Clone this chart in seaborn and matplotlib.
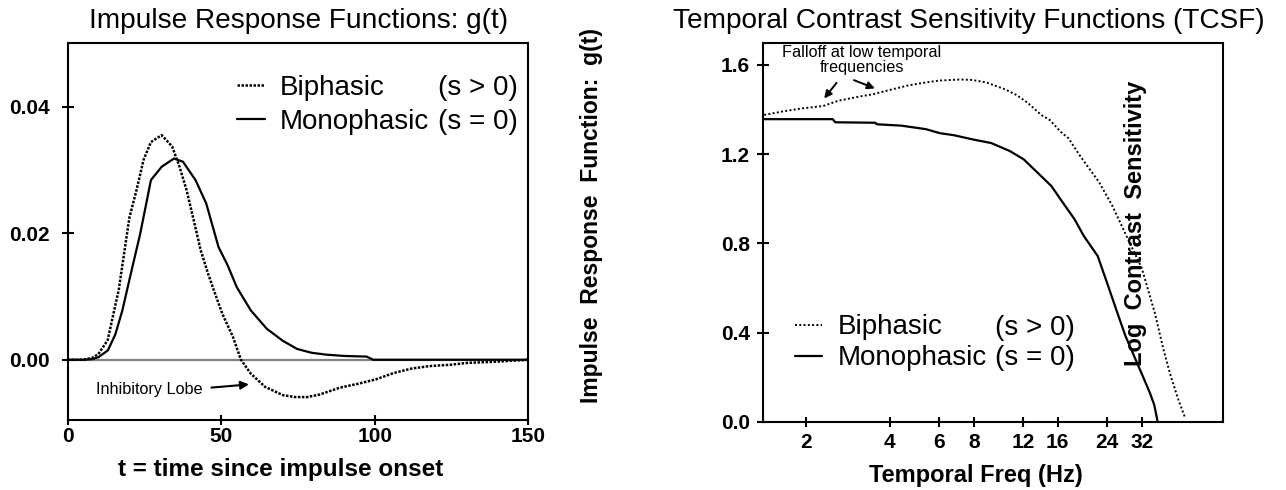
import matplotlib
matplotlib.use("Agg")
import matplotlib.pyplot as plt
import seaborn as sns
import pandas as pd

# ---------------- data: impulse response functions ----------------
t_bi = [0, 5, 8, 10, 13, 16.6, 20.1, 22.4, 24.7, 27.1, 30.6, 34, 36.4, 38.7, 41,
        43.3, 45.7, 48, 50.3, 53.8, 56.4, 59.6, 64.3, 70.1, 74, 78, 82, 88.7,
        94.5, 100.3, 106.1, 111.9, 117.7, 124.4, 130, 139.6, 150]
g_bi = [0, 0, 0.0003, 0.0009, 0.0031, 0.0110, 0.0225, 0.0268, 0.0316, 0.0344,
        0.0355, 0.0337, 0.0305, 0.0268, 0.0221, 0.0173, 0.0136, 0.0104, 0.0073,
        0.0036, 0.0, -0.0022, -0.0043, -0.0056, -0.0059, -0.0059, -0.0055,
        -0.0044, -0.0038, -0.0031, -0.0021, -0.0014, -0.0010, -0.0008, -0.0005,
        -0.0003, 0]

t_mono = [0, 5, 8, 10, 13.1, 15.5, 17.8, 20.5, 23.6, 27.1, 30.6, 34.6, 37.5, 41.6,
          45.1, 49.1, 52, 55, 59.6, 64.8, 70, 74.7, 79.4, 84.3, 90, 97.3, 99.5,
          110, 150]
g_mono = [0, 0, 0.0001, 0.0004, 0.0015, 0.0040, 0.0078, 0.0135, 0.0199, 0.0284,
          0.0305, 0.0318, 0.0313, 0.0284, 0.0247, 0.0178, 0.0150, 0.0115, 0.0078,
          0.0049, 0.0030, 0.0017, 0.0011, 0.0008, 0.0006, 0.0005, 0.0, 0, 0]

# ---------------- data: temporal contrast sensitivity ----------------
f_bi = [1.42, 1.66, 1.93, 2.31, 2.62, 3.17, 3.49, 4.0, 4.65, 5.28, 6.0, 7.15,
        7.9, 8.88, 10.4, 11.4, 12.5, 14.0, 15.0, 16.4, 17.5, 19.3, 22.5, 25.2,
        28.3, 32.0, 35.7, 38.2, 40.4, 43.0, 45.7]
s_bi = [1.376, 1.392, 1.405, 1.416, 1.440, 1.460, 1.469, 1.488, 1.508, 1.520,
        1.530, 1.535, 1.533, 1.522, 1.490, 1.465, 1.430, 1.375, 1.353, 1.300,
        1.271, 1.190, 1.075, 0.965, 0.830, 0.690, 0.486, 0.330, 0.217, 0.110,
        0.020]

f_mono = [1.42, 2.5, 2.55, 3.55, 3.6, 4.4, 5.4, 6.06, 6.8, 7.94, 9.24, 10.78,
          12.08, 13.55, 15.19, 16.39, 18.39, 19.85, 22.26, 24.03, 25.92, 28.0,
          30.4, 32.4, 34.3, 35.5, 36.5]
s_mono = [1.357, 1.357, 1.343, 1.341, 1.334, 1.328, 1.312, 1.294, 1.285, 1.266,
          1.250, 1.214, 1.177, 1.117, 1.057, 0.997, 0.908, 0.833, 0.743, 0.624,
          0.504, 0.384, 0.280, 0.200, 0.127, 0.075, 0.0]

irf_xticks = [0, 50, 100, 150]
irf_yticks = [0.00, 0.02, 0.04]
irf_ylabels = ["0.00", "0.02", "0.04"]
tcsf_xticks = [2, 4, 6, 8, 12, 16, 24, 32]
tcsf_yticks = [0.0, 0.4, 0.8, 1.2, 1.6]
tcsf_ylabels = ["0.0", "0.4", "0.8", "1.2", "1.6"]

series_names = ["Biphasic", "Monophasic"]
series_params = ["(s > 0)", "(s = 0)"]

# ---------------- style ----------------
sns.set_theme(style="ticks")
plt.rcParams["font.family"] = ["Liberation Sans", "DejaVu Sans"]
plt.rcParams.update({
    "text.color": "black", "axes.labelcolor": "black",
    "xtick.color": "black", "ytick.color": "black",
    "axes.edgecolor": "black",
})

fig = plt.figure(figsize=(12.86, 4.9), dpi=100)
ax1 = fig.add_axes([0.05264, 0.14184, 0.35832, 0.77102])
ax2 = fig.add_axes([0.59331, 0.13939, 0.35770, 0.77347])

dot_l = (0, (1, 0.6))
dot_r = (0, (1, 1.2))
LEG_FS = 20

# ---------------- left panel ----------------
ax1.axhline(0, color="#808080", lw=1.6, zorder=1)
df_bi = pd.DataFrame({"t": t_bi, "g": g_bi})
df_mono = pd.DataFrame({"t": t_mono, "g": g_mono})
sns.lineplot(data=df_bi, x="t", y="g", ax=ax1, color="black", lw=1.8,
             linestyle=dot_l, label=series_names[0], estimator=None, zorder=3)
sns.lineplot(data=df_mono, x="t", y="g", ax=ax1, color="black", lw=1.6,
             label=series_names[1], estimator=None, zorder=3)
ax1.set_xlim(0, 150)
ax1.set_ylim(-0.0096, 0.0501)
ax1.set_xticks(irf_xticks, [str(v) for v in irf_xticks], fontsize=15, fontweight="bold")
ax1.set_yticks(irf_yticks, irf_ylabels, fontsize=15, fontweight="bold")
ax1.tick_params(axis="x", direction="inout", length=6.5, width=1.5, pad=1.2)
ax1.tick_params(axis="y", direction="inout", length=9, width=1.5, pad=8.4)
ax1.set_xlabel("t = time since impulse onset", fontsize=17.5, fontweight="bold", va="center")
ax1.xaxis.set_label_coords(0.463, -0.131)
ax1.set_ylabel("")
ax1.set_title("Impulse Response Functions: g(t)", fontsize=20.2, pad=10.5)

h, l = ax1.get_legend_handles_labels()
ax1.legend(h, l, loc="center left", bbox_to_anchor=(0.3665, 0.835), frameon=False,
           fontsize=LEG_FS, handlelength=1.03, handletextpad=0.51, labelspacing=0.28,
           borderpad=0, borderaxespad=0)
ax1.text(0.977, 0.879, series_params[0], transform=ax1.transAxes, ha="right",
         va="center", fontsize=LEG_FS)
ax1.text(0.977, 0.791, series_params[1], transform=ax1.transAxes, ha="right",
         va="center", fontsize=LEG_FS)

ax1.text(9.3, -0.0047, "Inhibitory Lobe", ha="left", va="center", fontsize=11.7)
ax1.annotate("", xy=(59, -0.0039), xytext=(46.8, -0.0044),
             arrowprops=dict(arrowstyle="-|>", color="black", lw=1.5,
                             mutation_scale=12, shrinkA=0, shrinkB=0))

# ---------------- right panel ----------------
df_fbi = pd.DataFrame({"f": f_bi, "s": s_bi})
df_fmono = pd.DataFrame({"f": f_mono, "s": s_mono})
sns.lineplot(data=df_fbi, x="f", y="s", ax=ax2, color="black", lw=1.4,
             linestyle=dot_r, label=series_names[0], estimator=None, zorder=3)
sns.lineplot(data=df_fmono, x="f", y="s", ax=ax2, color="black", lw=1.6,
             label=series_names[1], estimator=None, zorder=3)
ax2.set_xscale("log")
ax2.set_xlim(1.406, 62.6)
ax2.set_ylim(0, 1.70)
ax2.set_xticks(tcsf_xticks, [str(v) for v in tcsf_xticks], fontsize=15, fontweight="bold")
ax2.xaxis.set_minor_locator(matplotlib.ticker.NullLocator())
ax2.set_yticks(tcsf_yticks, tcsf_ylabels, fontsize=15, fontweight="bold")
ax2.tick_params(axis="x", direction="inout", length=6.5, width=1.5, pad=4.9)
ax2.tick_params(axis="y", direction="inout", length=9, width=1.5, pad=5)
ax2.set_xlabel("Temporal Freq (Hz)", fontsize=17, fontweight="bold", va="center")
ax2.xaxis.set_label_coords(0.463, -0.143)
ax2.set_ylabel("Impulse  Response  Function:  g(t)", fontsize=16.5,
               fontweight="bold", va="center")
ax2.yaxis.set_label_coords(-0.372, 0.545)
ax2.set_title("Temporal Contrast Sensitivity Functions (TCSF)", fontsize=20.2,
              pad=10.5, x=0.448)

h, l = ax2.get_legend_handles_labels()
ax2.legend(h, l, loc="center left", bbox_to_anchor=(0.0685, 0.2077), frameon=False,
           fontsize=LEG_FS, handlelength=1.0, handletextpad=0.55, labelspacing=0.18,
           borderpad=0, borderaxespad=0)
ax2.text(0.679, 0.248, series_params[0], transform=ax2.transAxes, ha="right",
         va="center", fontsize=LEG_FS)
ax2.text(0.679, 0.167, series_params[1], transform=ax2.transAxes, ha="right",
         va="center", fontsize=LEG_FS)

ax2.text(0.809, 0.523, "Log  Contrast  Sensitivity", transform=ax2.transAxes,
         rotation=90, ha="center", va="center", fontsize=17, fontweight="bold")

ax2.text(3.17, 1.623, "Falloff at low temporal\nfrequencies", ha="center",
         va="center", fontsize=11.7, linespacing=1.0)
ax2.annotate("", xy=(2.33, 1.450), xytext=(2.58, 1.520),
             arrowprops=dict(arrowstyle="-|>", color="black", lw=1.4,
                             mutation_scale=11, shrinkA=0, shrinkB=0))
ax2.annotate("", xy=(3.54, 1.495), xytext=(2.98, 1.532),
             arrowprops=dict(arrowstyle="-|>", color="black", lw=1.4,
                             mutation_scale=11, shrinkA=0, shrinkB=0))

for ax in (ax1, ax2):
    for sp in ax.spines.values():
        sp.set_visible(True)
        sp.set_color("black")
        sp.set_linewidth(1.5)

fig.savefig("out.png", dpi=100)
